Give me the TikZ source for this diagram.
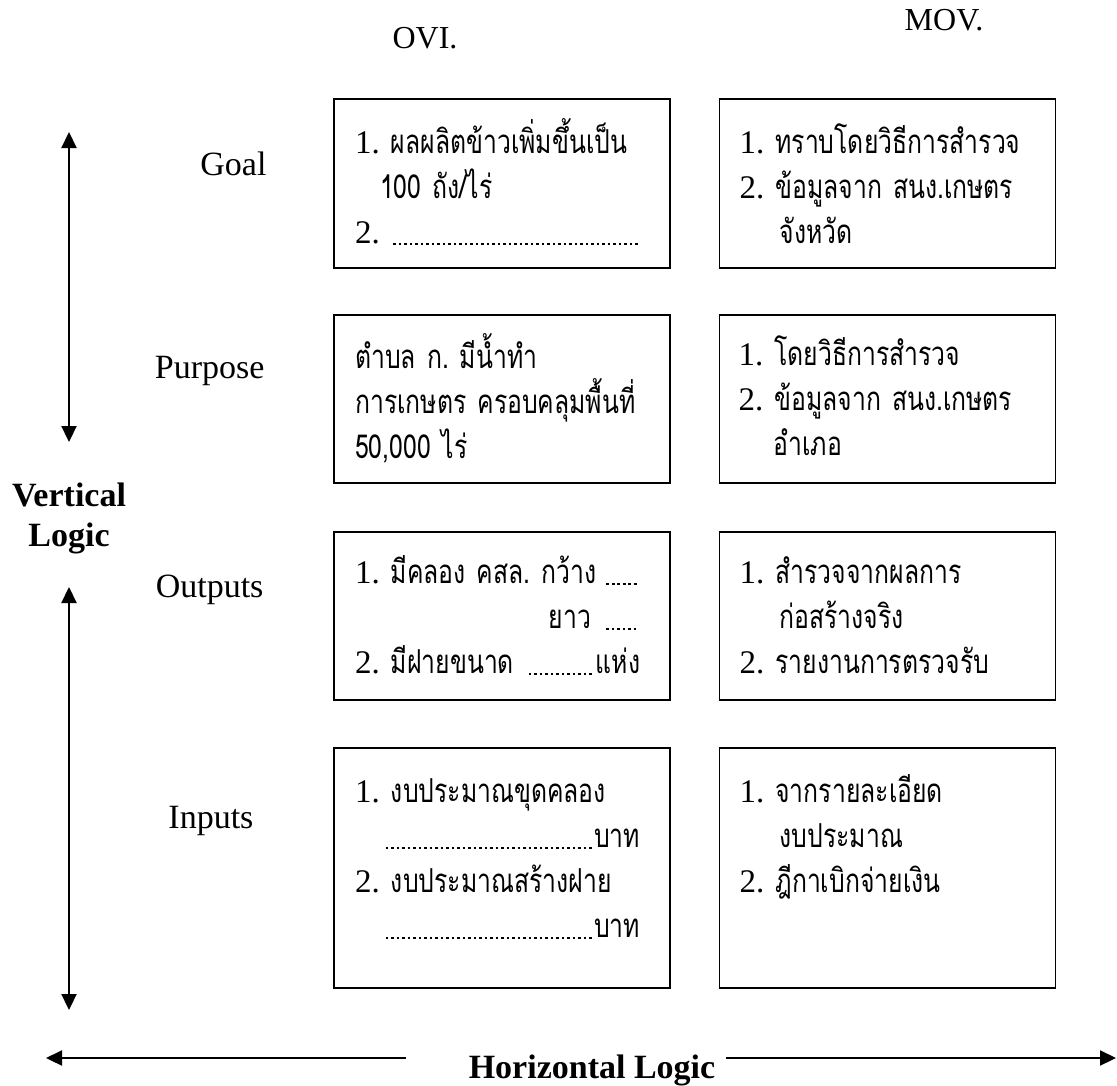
\documentclass[tikz,border=0pt]{standalone}
\usepackage{fontspec}
\setmainfont{Liberation Serif}
\newfontfamily\thaifont[Script=Thai,FakeStretch=0.75]{Loma}
\usetikzlibrary{arrows.meta, positioning}

\newcommand{\boxfont}{\thaifont\fontsize{33pt}{45pt}\selectfont\lineskiplimit=-100pt\lineskip=0pt}
\newcommand{\itemno}[1]{{\rmfamily #1.}~}
\newcommand{\dotleader}{\cleaders\hbox to 5.5pt{\hss\rule[-2pt]{2.6pt}{1.8pt}\hss}}

\begin{document}
\begin{tikzpicture}[
    x=1pt, y=-1pt,
    >={Triangle[width=15pt,length=16pt]},
    box/.style={draw, line width=1.5pt, minimum width=336pt, inner sep=0pt},
    boxtext/.style={anchor=base west, text width=285pt, align=left, inner sep=0pt, font=\boxfont},
    rowlabel/.style={anchor=base east, font=\fontsize{34pt}{40pt}\selectfont},
    logic/.style={font=\bfseries\fontsize{34pt}{40pt}\selectfont},
    logicarrow/.style={line width=2.2pt}
  ]
  \useasboundingbox (0,0) rectangle (1117,1085);

  % column heads
  \node[rowlabel, anchor=base, font=\fontsize{32pt}{40pt}\selectfont] (ovi) at (425,48) {OVI.};
  \node[rowlabel, anchor=base, font=\fontsize{32pt}{40pt}\selectfont] (mov) at (944,30) {MOV.};

  % boxes
  \node[box, minimum height=169pt, anchor=north west] (goal-ovi) at (333,98) {};
  \node[box, minimum height=169pt, right=48pt of goal-ovi] (goal-mov) {};
  \node[box, minimum height=168pt, anchor=north west] (purpose-ovi) at (333,314) {};
  \node[box, minimum height=168pt, right=48pt of purpose-ovi] (purpose-mov) {};
  \node[box, minimum height=168pt, anchor=north west] (outputs-ovi) at (333,531) {};
  \node[box, minimum height=168pt, right=48pt of outputs-ovi] (outputs-mov) {};
  \node[box, minimum height=240pt, anchor=north west] (inputs-ovi) at (333,747) {};
  \node[box, minimum height=240pt, right=48pt of inputs-ovi] (inputs-mov) {};

  % box texts
  \node[boxtext] (goal-ovi-txt) at ([shift={(22,55)}]goal-ovi.north west)
    {\itemno{1}ผลผลิตข้าวเพิ่มขึ้นเป็น\\
     \hspace*{25pt}100~ถัง/ไร่\\
     \itemno{2}\dotleader\hfill\null};
  \node[boxtext] (goal-mov-txt) at ([shift={(21,55)}]goal-mov.north west)
    {\itemno{1}ทราบโดยวิธีการสำรวจ\\
     \itemno{2}ข้อมูลจาก~สนง.เกษตร\\
     \hspace*{40pt}จังหวัด};
  \node[boxtext] (purpose-ovi-txt) at ([shift={(22,54)}]purpose-ovi.north west)
    {ตำบล~ก.~มีน้ำทำ\\
     การเกษตร~ครอบคลุมพื้นที่\\
     50,000~ไร่};
  \node[boxtext] (purpose-mov-txt) at ([shift={(20,51)}]purpose-mov.north west)
    {\itemno{1}โดยวิธีการสำรวจ\\
     \itemno{2}ข้อมูลจาก~สนง.เกษตร\\
     \hspace*{35pt}อำเภอ};
  \node[boxtext] (outputs-ovi-txt) at ([shift={(22,52)}]outputs-ovi.north west)
    {\itemno{1}มีคลอง~คสล.~กว้าง\nobreak\hfill\nobreak\hskip6pt\dotleader\hskip38pt\null\\
     \hfill ยาว~\dotleader\hskip38pt\null\\
     \itemno{2}มีฝายขนาด~\dotleader\hfill แห่ง};
  \node[boxtext] (outputs-mov-txt) at ([shift={(21,52)}]outputs-mov.north west)
    {\itemno{1}สำรวจจากผลการ\\
     \hspace*{40pt}ก่อสร้างจริง\\
     \itemno{2}รายงานการตรวจรับ};
  \node[boxtext] (inputs-ovi-txt) at ([shift={(22,55)}]inputs-ovi.north west)
    {\itemno{1}งบประมาณขุดคลอง\\
     \hspace*{28pt}\dotleader\hfill บาท\\
     \itemno{2}งบประมาณสร้างฝาย\\
     \hspace*{28pt}\dotleader\hfill บาท};
  \node[boxtext] (inputs-mov-txt) at ([shift={(21,55)}]inputs-mov.north west)
    {\itemno{1}จากรายละเอียด\\
     \hspace*{40pt}งบประมาณ\\
     \itemno{2}ฎีกาเบิกจ่ายเงิน};

  % row labels
  \node[rowlabel] (goal) at (270,175) {Goal};
  \node[rowlabel] (purpose) at (268,378) {Purpose};
  \node[rowlabel] (outputs) at (267,597) {Outputs};
  \node[rowlabel] (inputs) at (257,828) {Inputs};

  % vertical logic
  \node[logic, align=center] (vlogic) at (69,518) {Vertical\\Logic};
  \coordinate (vl-top) at (69,132);
  \coordinate (vl-upper) at (69,442);
  \coordinate (vl-lower) at (69,587);
  \coordinate (vl-bottom) at (69,1010);
  \draw[logicarrow, <->] (vl-top) -- (vl-upper);
  \draw[logicarrow, <->] (vl-lower) -- (vl-bottom);

  % horizontal logic
  \node[logic, anchor=base] (hlogic) at (592,1078) {Horizontal Logic};
  \coordinate (hl-left) at (46,1058);
  \coordinate (hl-left-end) at (406,1058);
  \coordinate (hl-right-start) at (726,1058);
  \coordinate (hl-right) at (1116,1058);
  \draw[logicarrow, ->] (hl-left-end) -- (hl-left);
  \draw[logicarrow, ->] (hl-right-start) -- (hl-right);
\end{tikzpicture}
\end{document}
